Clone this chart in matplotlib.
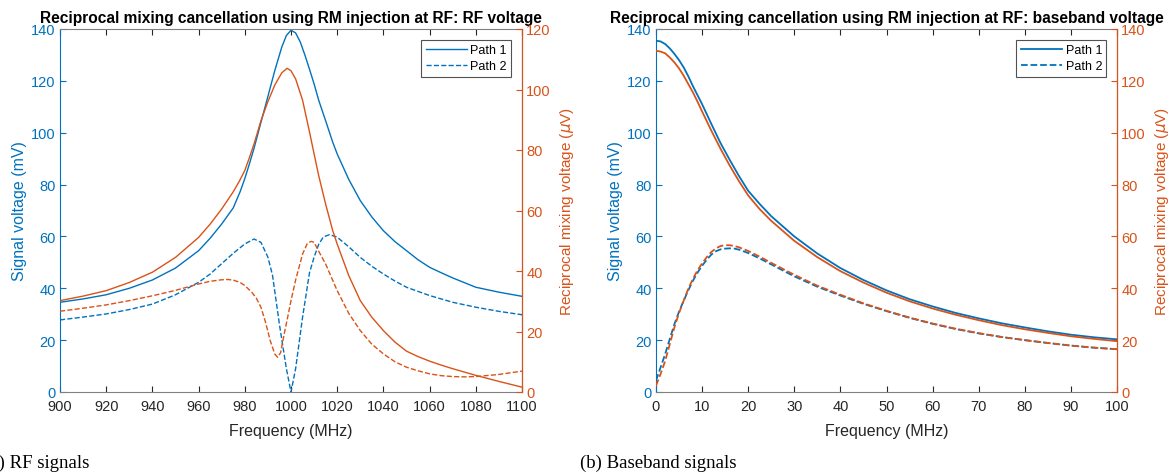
import matplotlib
matplotlib.use('Agg')
import matplotlib.pyplot as plt

plt.rcParams['font.family'] = ['Liberation Sans', 'DejaVu Sans']

blue = '#0072BD'
orange = '#D95319'
grey = '#262626'

# (a) RF voltage, frequency in MHz
rf_f1 = [900, 910, 920, 930, 940, 950, 960, 965, 970, 975, 978, 980, 982, 984, 987,
         990, 993, 996, 998, 1000, 1002, 1004, 1006, 1008, 1010, 1012, 1015, 1018,
         1020, 1025, 1030, 1035, 1040, 1045, 1050, 1055, 1060, 1065, 1070, 1075, 1080,
         1090, 1100]
rf_sig1 = [34.6, 35.9, 37.5, 40.0, 43.2, 47.8, 54.5, 59.3, 64.8, 71, 77.3, 82.3, 88,
           94, 104, 114, 124, 133, 137.5, 139.5, 138.5, 135, 130, 124.5, 118.8, 112.5,
           104.6, 96.5, 91.8, 82, 73.8, 67.5, 62.2, 58, 54.5, 51, 48.1, 46, 44, 42.2,
           40.4, 38.5, 36.9]  # mV
rf_f1o = [900, 910, 920, 930, 940, 950, 960, 965, 970, 975, 977.5, 980, 982, 984,
          987, 990, 993, 996, 998.3, 1000, 1002, 1005, 1008, 1010, 1012, 1015, 1018,
          1020, 1025, 1030, 1035, 1040, 1045, 1050, 1055, 1060, 1065, 1070, 1075, 1080,
          1090, 1100]
rf_rm1 = [30.2, 31.7, 33.5, 36.2, 39.6, 44.5, 51.1, 55.5, 60.5, 66.2, 69.5, 73.2,
          77.5, 82, 89.7, 96, 101.5, 105.5, 107, 106.2, 103.5, 96.5, 86, 78.7, 71.5,
          62.1, 53.5, 48.9, 38.5, 30.2, 24.7, 20.3, 16.5, 13.5, 11.7, 10.2, 8.9, 7.7,
          6.6, 5.5, 3.5, 1.6]  # uV
rf_f2 = [900, 910, 920, 930, 940, 950, 960, 965, 970, 975, 980, 984, 987, 990, 992,
         995, 998, 1000, 1002, 1005, 1008, 1010, 1012, 1014, 1016.7, 1020, 1025, 1030,
         1035, 1040, 1045, 1050, 1060, 1070, 1080, 1090, 1100]
rf_sig2 = [27.8, 28.9, 30.1, 31.8, 33.9, 37.5, 42.3, 45.5, 49.5, 53.5, 57.1, 59,
           57.7, 52, 45, 26, 9, 0, 9, 28.8, 46, 52, 57, 59.8, 60.7, 59.7, 56, 51.9,
           48.5, 45.5, 42.8, 40.4, 37.2, 34.6, 32.7, 31.1, 29.8]  # mV
rf_f2o = [900, 910, 920, 930, 940, 950, 960, 965, 970, 972.5, 975, 978, 980, 983,
          985, 987, 989, 991, 993, 994.2, 995.5, 997, 998.5, 1000, 1002, 1005, 1007,
          1008.7, 1010, 1012, 1015, 1020, 1025, 1030, 1035, 1040, 1045, 1050, 1055,
          1060, 1065, 1070, 1075, 1080, 1090, 1100]
rf_rm2 = [26.7, 27.7, 28.8, 30.2, 31.8, 33.6, 35.7, 36.6, 37.1, 37.2, 37, 36.2, 35.2,
          33, 31, 28, 23, 17, 12.5, 11.5, 13, 19, 24.5, 30.2, 37, 45.6, 49, 49.8, 49.5,
          46.5, 42.3, 33.5, 26, 20.3, 15.8, 12.6, 10, 8.2, 7, 6.0, 5.4, 5.1, 5.0, 5.1,
          5.8, 6.9]  # uV

# (b) baseband voltage, frequency in MHz
bb_f = [0, 1, 2, 3, 4, 5, 6, 7, 8, 9, 10, 12, 14, 16, 18, 20, 22.5, 25, 30, 35, 40,
        45, 50, 55, 60, 65, 70, 75, 80, 85, 90, 95, 100]
bb_sig1 = [135.5, 135.2, 134.2, 132.5, 130.4, 128, 125.2, 121.8, 118, 114.5, 111,
           103.4, 96, 89.5, 83.3, 77.6, 72.5, 67.8, 60.0, 53.4, 47.8, 43.2, 39.2, 35.8,
           33.0, 30.5, 28.4, 26.5, 24.9, 23.4, 22.1, 21.1, 20.3]  # mV
bb_rm1 = [131.6, 131.3, 130.6, 129, 127.1, 124.8, 122, 118.8, 115.6, 112, 108.2,
          100.8, 93.8, 87.3, 81.3, 75.8, 70.5, 66, 58.3, 52, 46.6, 42.2, 38.3, 35,
          32.2, 29.8, 27.7, 25.8, 24.2, 22.8, 21.5, 20.5, 19.6]  # uV
bb_f2 = [0, 1, 2, 3, 4, 5, 6, 7, 8, 9, 10, 11, 12, 13, 14, 15, 16, 17, 18, 20, 22.5,
         25, 30, 35, 40, 45, 50, 55, 60, 65, 70, 75, 80, 85, 90, 95, 100]
bb_sig2 = [4.4, 9.5, 14.7, 20.5, 26.2, 31, 35.2, 39.2, 42.9, 46, 48.7, 51, 53, 54.3,
           55, 55.3, 55.4, 55.3, 54.9, 53.6, 51.5, 49.2, 44.6, 40.6, 37.2, 34, 31.2,
           28.6, 26.3, 24.3, 22.6, 21.2, 20.0, 18.9, 17.9, 17.1, 16.5]  # mV
bb_rm2 = [2.4, 7, 12, 18.5, 25, 30.5, 35.2, 39.8, 43.6, 46.9, 49.6, 52, 54, 55.4,
          56.3, 56.6, 56.6, 56.3, 55.8, 54.4, 52.2, 49.8, 45.2, 41, 37.5, 34.2, 31.3,
          28.7, 26.4, 24.4, 22.7, 21.2, 20.0, 18.9, 17.9, 17.1, 16.5]  # uV

fig = plt.figure(figsize=(11.71, 4.77), dpi=100)


def style(ax, ax2):
    for s in ['top', 'bottom']:
        ax.spines[s].set_color('#808080')
    ax.spines['left'].set_color(blue)
    ax2.spines['right'].set_color(orange)
    ax2.spines['left'].set_visible(False)
    ax2.spines['top'].set_visible(False)
    ax2.spines['bottom'].set_visible(False)
    ax.tick_params(axis='x', direction='in', top=True, colors=grey, labelsize=10.5,
                   pad=5, length=4)
    ax.tick_params(axis='y', direction='in', colors=blue, labelsize=10.5, pad=3,
                   length=4)
    ax2.tick_params(axis='y', direction='in', colors=orange, labelsize=10.5, pad=3,
                    length=4)
    ax.set_xlabel('Frequency (MHz)', color=grey, fontsize=11.5, labelpad=7)
    ax.set_ylabel('Signal voltage (mV)', color=blue, fontsize=11.5, labelpad=3)
    ax2.set_ylabel(r'Reciprocal mixing voltage ($\mu$V)', color=orange, fontsize=11,
                   labelpad=5)


def legend(ax2, handles):
    leg = ax2.legend(handles, ['Path 1', 'Path 2'], loc='upper right', fontsize=9,
                     fancybox=False, edgecolor='#262626', handlelength=3.3,
                     handletextpad=0.3, borderpad=0.35, labelspacing=0.35,
                     borderaxespad=0.85)
    leg.get_frame().set_linewidth(0.8)


# left: RF
ax = fig.add_axes([60 / 1171, 1 - 393 / 477, 462 / 1171, 363 / 477])
ax2 = ax.twinx()
l1, = ax.plot(rf_f1, rf_sig1, color=blue, lw=1)
l2, = ax.plot(rf_f2, rf_sig2, color=blue, lw=1, ls='--')
ax2.plot(rf_f1o, rf_rm1, color=orange, lw=1)
ax2.plot(rf_f2o, rf_rm2, color=orange, lw=1, ls='--')
ax.set_xlim(900, 1100)
ax.set_ylim(0, 140)
ax2.set_ylim(0, 120)
ax.set_xticks(range(900, 1101, 20))
ax.set_yticks(range(0, 141, 20))
ax2.set_yticks(range(0, 121, 20))
style(ax, ax2)
ax.set_title('Reciprocal mixing cancellation using RM injection at RF: RF voltage',
             fontsize=11.2, fontweight='bold', pad=5)
legend(ax2, [l1, l2])

# right: baseband
bx = fig.add_axes([656 / 1171, 1 - 393 / 477, 461 / 1171, 363 / 477])
bx2 = bx.twinx()
m1, = bx.plot(bb_f, bb_sig1, color=blue, lw=1.3)
m2, = bx.plot(bb_f2, bb_sig2, color=blue, lw=1.3, ls='--')
bx2.plot(bb_f, bb_rm1, color=orange, lw=1.3)
bx2.plot(bb_f2, bb_rm2, color=orange, lw=1.3, ls='--')
bx.set_xlim(0, 100)
bx.set_ylim(0, 140)
bx2.set_ylim(0, 140)
bx.set_xticks(range(0, 101, 10))
bx.set_yticks(range(0, 141, 20))
bx2.set_yticks(range(0, 141, 20))
style(bx, bx2)
bx.set_title('Reciprocal mixing cancellation using RM injection at RF: baseband voltage',
             fontsize=11.2, fontweight='bold', pad=5)
legend(bx2, [m1, m2])

fig.text(-16 / 1171, 1 - 463 / 477, '(a) RF signals', family='Liberation Serif',
         fontsize=13.5, va='center')
fig.text(580 / 1171, 1 - 463 / 477, '(b) Baseband signals', family='Liberation Serif',
         fontsize=13.5, va='center')

fig.savefig('out.png', dpi=100)
